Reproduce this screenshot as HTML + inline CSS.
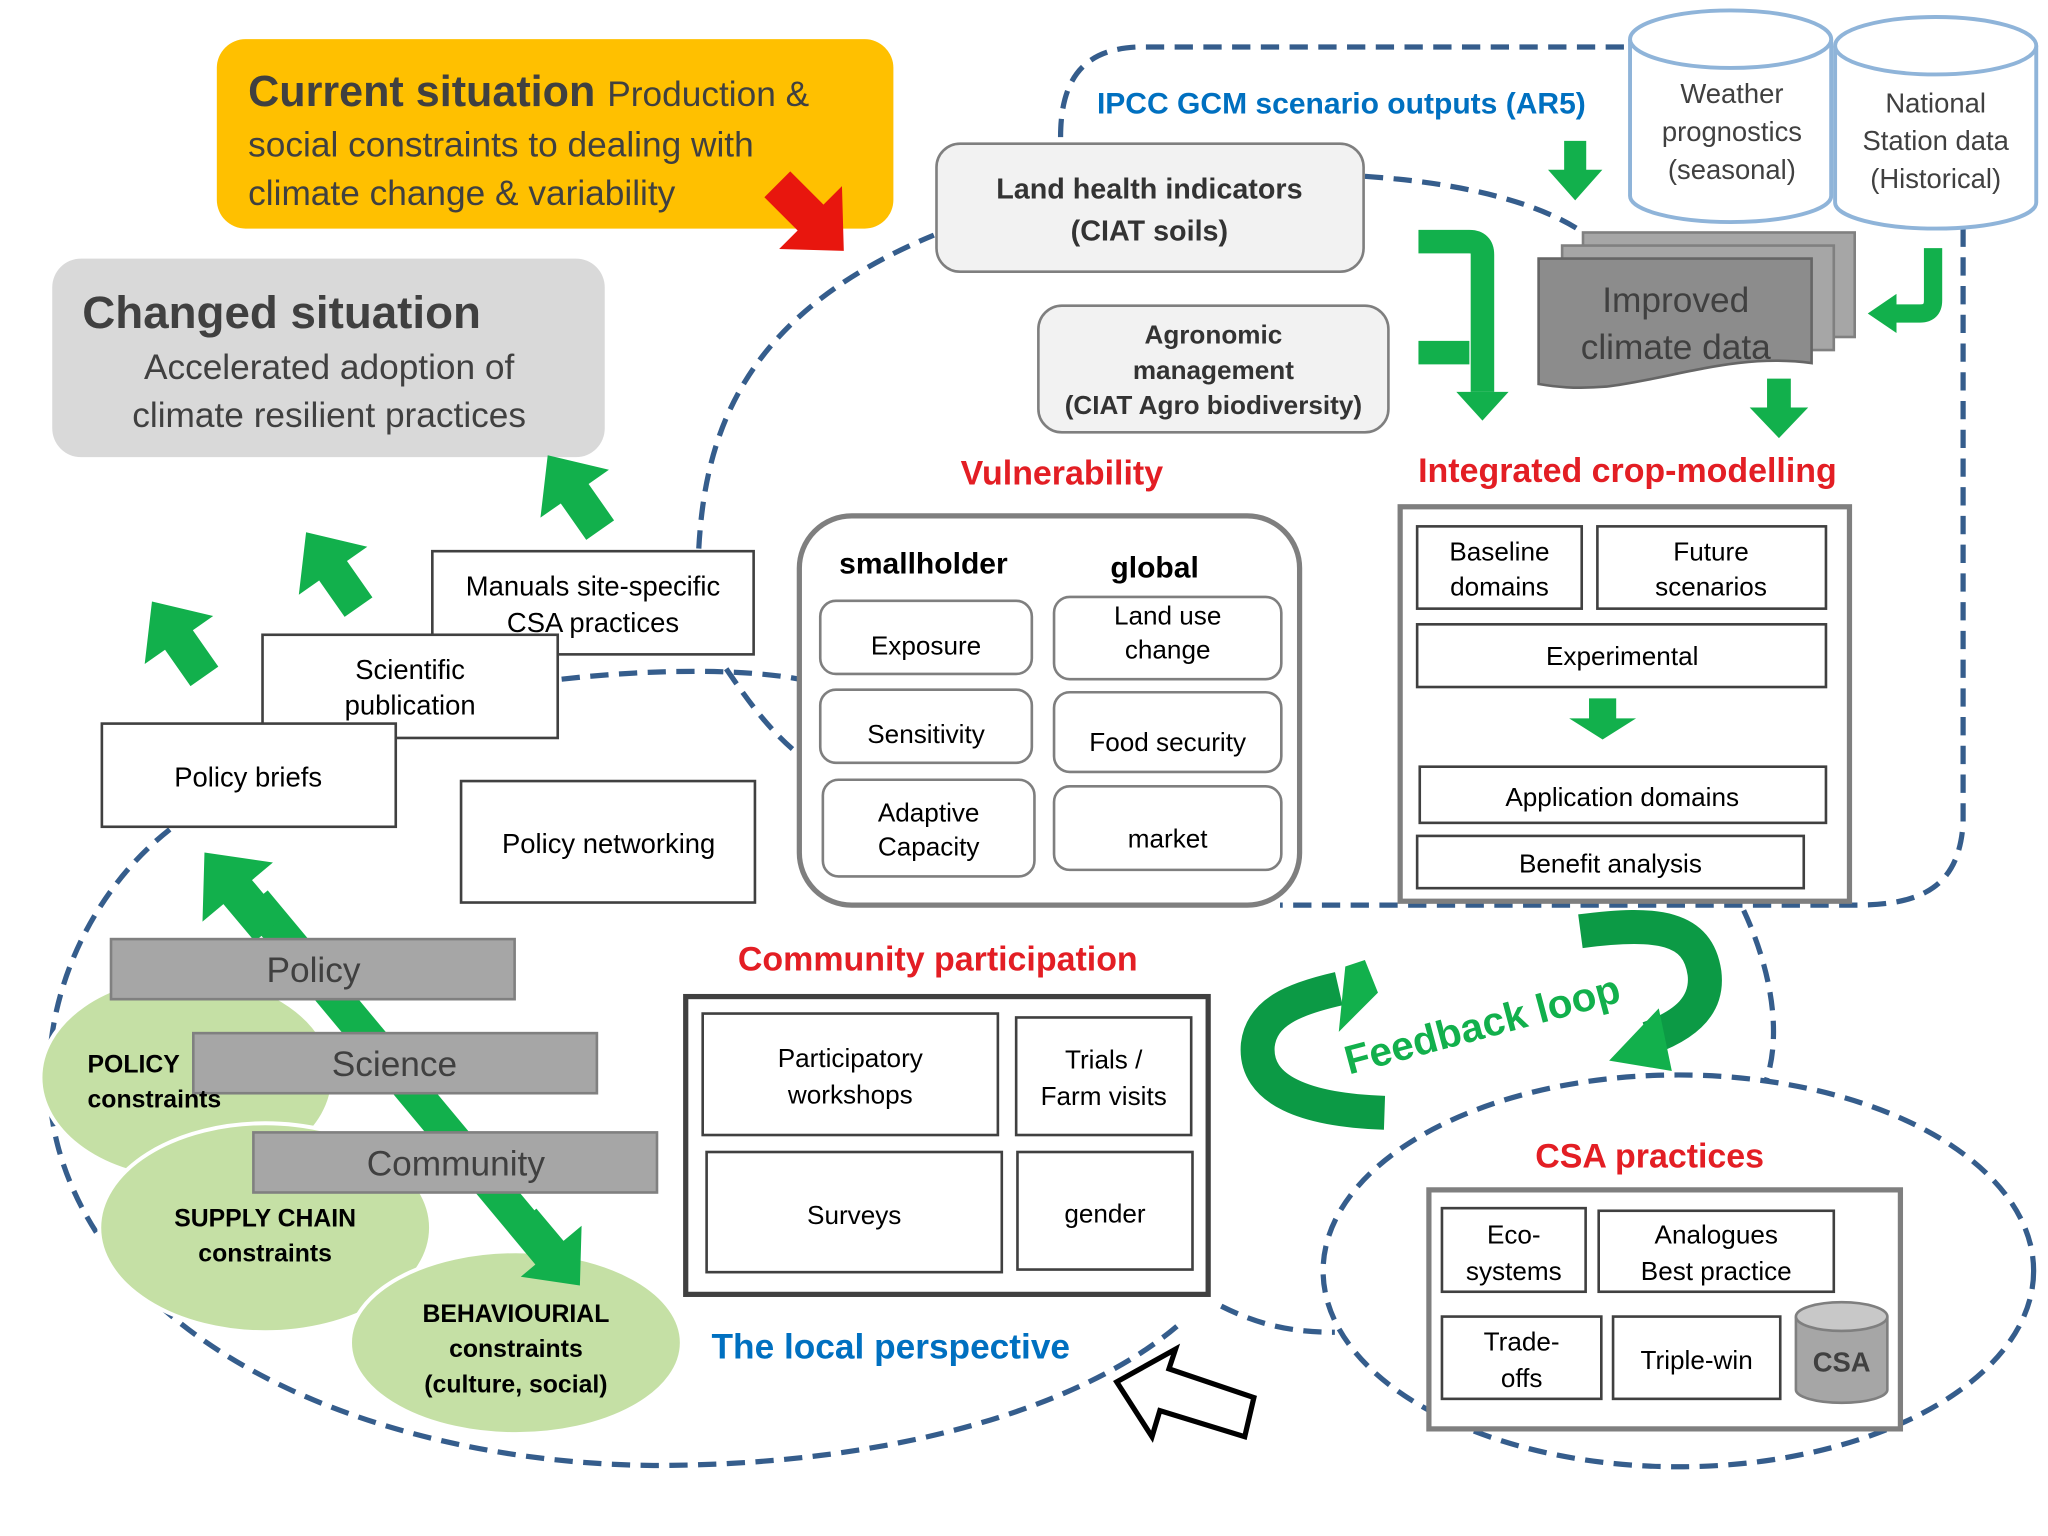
<!DOCTYPE html>
<html><head><meta charset="utf-8"><style>
html,body{margin:0;padding:0;background:#fff;}
svg{display:block;}
text{font-family:"Liberation Sans",sans-serif;}
</style></head><body>
<svg width="2048" height="1536" viewBox="0 0 1568 1176" xmlns="http://www.w3.org/2000/svg">
<defs>
<path id="ar" d="M0,-36 L32,0 L13,0 L13,34 L-13,34 L-13,0 L-32,0 Z" fill="#12b04c"/>
</defs>
<rect width="1568" height="1176" fill="#fff"/>

<g fill="none" stroke="#355d8c" stroke-width="4" stroke-dasharray="14,8">
<path d="M535,420 C540,330 570,240 715,180"/>
<path d="M812,105 C812,60 830,38 870,36 L1245,36"/>
<path d="M1045,135 C1120,140 1180,155 1215,180"/>
<path d="M1503,175 L1503,630 C1500,680 1470,693 1420,693 L980,693"/>
<path d="M430,520 C500,512 570,512 612,520"/>
<path d="M556,512 C575,540 590,560 612,578"/>
<path d="M130,635 C60,690 20,790 45,880 C90,1040 300,1120 500,1122 C700,1122 840,1070 905,1012"/>
<path d="M935,1000 C965,1015 990,1020 1022,1020"/>
<path d="M1335,697 C1355,740 1365,790 1352,828"/>
<ellipse cx="1285" cy="973" rx="272" ry="150"/>
</g>

<rect x="166" y="30" width="518" height="145" rx="22" fill="#ffc000"/>
<text x="190" y="81" font-size="33" font-weight="bold" fill="#404040">Current situation <tspan font-weight="normal" font-size="27">Production &amp;</tspan></text>
<text x="190" y="120" font-size="27" fill="#404040">social constraints to  dealing with</text>
<text x="190" y="157" font-size="27" fill="#404040">climate change &amp; variability</text>
<g transform="translate(622,168) rotate(135)"><path d="M0,-34 L34,2 L14,2 L14,38 L-14,38 L-14,2 L-34,2 Z" fill="#e8160e"/></g>

<rect x="40" y="198" width="423" height="152" rx="22" fill="#d9d9d9"/>
<text x="63" y="251" font-size="35" font-weight="bold" fill="#404040">Changed situation</text>
<text x="252" y="290" font-size="27" fill="#404040" text-anchor="middle">Accelerated adoption of</text>
<text x="252" y="327" font-size="27" fill="#404040" text-anchor="middle">climate resilient  practices</text>

<use href="#ar" transform="translate(440,378) rotate(-35)"/>
<use href="#ar" transform="translate(255,437) rotate(-35)"/>
<use href="#ar" transform="translate(137,490) rotate(-35)"/>

<g fill="#fff" stroke="#404040" stroke-width="2" font-size="21" text-anchor="middle">
<rect x="331" y="422" width="246" height="79"/>
<text x="454" y="456" stroke="none" fill="#000">Manuals site-specific</text>
<text x="454" y="484" stroke="none" fill="#000">CSA practices</text>
<rect x="201" y="486" width="226" height="79"/>
<text x="314" y="520" stroke="none" fill="#000">Scientific</text>
<text x="314" y="547" stroke="none" fill="#000">publication</text>
<rect x="78" y="554" width="225" height="79"/>
<text x="190" y="602" stroke="none" fill="#000">Policy briefs</text>
<rect x="353" y="598" width="225" height="93"/>
<text x="466" y="653" stroke="none" fill="#000">Policy networking</text>
</g>

<g fill="#c5e0a5" stroke="#fff" stroke-width="3">
<ellipse cx="143" cy="825" rx="112" ry="78"/>
<ellipse cx="203" cy="940" rx="127" ry="80"/>
<ellipse cx="395" cy="1028" rx="127" ry="70"/>
</g>
<line x1="195" y1="690" x2="420" y2="960" stroke="#12b04c" stroke-width="26"/>
<use href="#ar" transform="translate(182,683) rotate(-40) scale(1.1)"/>
<use href="#ar" transform="translate(422,958) rotate(140) scale(0.95)"/>
<g fill="#a6a6a6" stroke="#808080" stroke-width="2">
<rect x="85" y="719" width="309" height="46"/>
<rect x="148" y="791" width="309" height="46"/>
<rect x="194" y="867" width="309" height="46"/>
</g>
<g font-size="27" fill="#404040" text-anchor="middle">
<text x="240" y="752">Policy</text>
<text x="302" y="824">Science</text>
<text x="349" y="900">Community</text>
</g>
<g font-size="19" font-weight="bold" fill="#000">
<text x="67" y="821">POLICY</text>
<text x="67" y="848">constraints</text>
<text x="203" y="939" text-anchor="middle">SUPPLY CHAIN</text>
<text x="203" y="966" text-anchor="middle">constraints</text>
<text x="395" y="1012" text-anchor="middle">BEHAVIOURIAL</text>
<text x="395" y="1039" text-anchor="middle">constraints</text>
<text x="395" y="1066" text-anchor="middle">(culture, social)</text>
</g>

<rect x="717" y="110" width="327" height="98" rx="18" fill="#f2f2f2" stroke="#7f7f7f" stroke-width="2"/>
<text x="880" y="152" font-size="22" font-weight="bold" fill="#333" text-anchor="middle">Land health indicators</text>
<text x="880" y="184" font-size="22" font-weight="bold" fill="#333" text-anchor="middle">(CIAT soils)</text>
<rect x="795" y="234" width="268" height="97" rx="18" fill="#f2f2f2" stroke="#7f7f7f" stroke-width="2"/>
<g font-size="20" font-weight="bold" fill="#333" text-anchor="middle">
<text x="929" y="263">Agronomic</text>
<text x="929" y="290">management</text>
<text x="929" y="317">(CIAT Agro biodiversity)</text>
</g>
<text x="1027" y="87" font-size="23" font-weight="bold" fill="#0070c0" text-anchor="middle">IPCC GCM scenario outputs (AR5)</text>

<g fill="#fff" stroke="#8fb4d9" stroke-width="3">
<path d="M1248,30 L1248,150 A77,20 0 0,0 1402,150 L1402,30"/>
<ellipse cx="1325" cy="30" rx="77" ry="22"/>
<path d="M1405,35 L1405,155 A77,20 0 0,0 1559,155 L1559,35"/>
<ellipse cx="1482" cy="35" rx="77" ry="22"/>
</g>
<g font-size="21" fill="#404040" text-anchor="middle">
<text x="1326" y="79">Weather</text><text x="1326" y="108">prognostics</text><text x="1326" y="137">(seasonal)</text>
<text x="1482" y="86">National</text><text x="1482" y="115">Station data</text><text x="1482" y="144">(Historical)</text>
</g>

<use href="#ar" transform="translate(1206,130) rotate(180) scale(0.65)"/>
<path d="M1086,185 L1125,185 Q1135,185 1135,195 L1135,300" fill="none" stroke="#12b04c" stroke-width="18"/>
<path d="M1086,270 L1125,270" stroke="#12b04c" stroke-width="18"/>
<path d="M1115,300 L1155,300 L1135,322 Z" fill="#12b04c"/>
<path d="M1480,190 L1480,230 Q1480,240 1470,240 L1450,240" fill="none" stroke="#12b04c" stroke-width="14"/>
<path d="M1452,225 L1452,255 L1430,240 Z" fill="#12b04c"/>
<use href="#ar" transform="translate(1362,312) rotate(180) scale(0.7,0.65)"/>

<rect x="1212" y="178" width="208" height="80" fill="#a6a6a6" stroke="#808080" stroke-width="2"/>
<rect x="1196" y="188" width="208" height="80" fill="#a6a6a6" stroke="#808080" stroke-width="2"/>
<path d="M1178,198 L1387,198 L1387,278 C1330,270 1280,290 1230,296 C1205,298 1190,296 1178,294 Z" fill="#8c8c8c" stroke="#666" stroke-width="2"/>
<text x="1283" y="239" font-size="27" fill="#404040" text-anchor="middle">Improved</text>
<text x="1283" y="275" font-size="27" fill="#404040" text-anchor="middle">climate data</text>

<text x="813" y="371" font-size="26" font-weight="bold" fill="#e31e24" text-anchor="middle">Vulnerability</text>
<rect x="612" y="395" width="383" height="298" rx="40" fill="#fff" stroke="#7f7f7f" stroke-width="4"/>
<text x="707" y="439" font-size="23" font-weight="bold" fill="#000" text-anchor="middle">smallholder</text>
<text x="884" y="442" font-size="23" font-weight="bold" fill="#000" text-anchor="middle">global</text>
<g fill="#fff" stroke="#7f7f7f" stroke-width="2">
<rect x="628" y="460" width="162" height="56" rx="12"/>
<rect x="628" y="528" width="162" height="56" rx="12"/>
<rect x="630" y="597" width="162" height="74" rx="12"/>
<rect x="807" y="457" width="174" height="63" rx="12"/>
<rect x="807" y="530" width="174" height="61" rx="12"/>
<rect x="807" y="602" width="174" height="64" rx="12"/>
</g>
<g font-size="20" fill="#000" text-anchor="middle">
<text x="709" y="501">Exposure</text>
<text x="709" y="569">Sensitivity</text>
<text x="711" y="629">Adaptive</text><text x="711" y="655">Capacity</text>
<text x="894" y="478">Land use</text><text x="894" y="504">change</text>
<text x="894" y="575">Food security</text>
<text x="894" y="649">market</text>
</g>

<text x="1246" y="369" font-size="26" font-weight="bold" fill="#e31e24" text-anchor="middle">Integrated crop-modelling</text>
<rect x="1072" y="388" width="344" height="302" fill="#fff" stroke="#7f7f7f" stroke-width="4"/>
<g fill="#fff" stroke="#404040" stroke-width="2">
<rect x="1085" y="403" width="126" height="63"/>
<rect x="1223" y="403" width="175" height="63"/>
<rect x="1085" y="478" width="313" height="48"/>
<rect x="1087" y="587" width="311" height="43"/>
<rect x="1085" y="640" width="296" height="40"/>
</g>
<use href="#ar" transform="translate(1227,550) rotate(180) scale(0.8,0.45)"/>
<g font-size="20" fill="#000" text-anchor="middle">
<text x="1148" y="429">Baseline</text><text x="1148" y="456">domains</text>
<text x="1310" y="429">Future</text><text x="1310" y="456">scenarios</text>
<text x="1242" y="509">Experimental</text>
<text x="1242" y="617">Application domains</text>
<text x="1233" y="668">Benefit analysis</text>
</g>

<text x="718" y="743" font-size="26" font-weight="bold" fill="#e31e24" text-anchor="middle">Community participation</text>
<rect x="525" y="763" width="400" height="228" fill="#fff" stroke="#404040" stroke-width="4"/>
<g fill="#fff" stroke="#404040" stroke-width="2">
<rect x="538" y="776" width="226" height="93"/>
<rect x="778" y="779" width="134" height="90"/>
<rect x="541" y="882" width="226" height="92"/>
<rect x="779" y="882" width="134" height="90"/>
</g>
<g font-size="20" fill="#000" text-anchor="middle">
<text x="651" y="817">Participatory</text><text x="651" y="845">workshops</text>
<text x="845" y="818">Trials /</text><text x="845" y="846">Farm visits</text>
<text x="654" y="937">Surveys</text>
<text x="846" y="936">gender</text>
</g>
<text x="682" y="1040" font-size="27" font-weight="bold" fill="#0070c0" text-anchor="middle">The local perspective</text>
<path d="M855,1058 L900,1033 L895,1048 L960,1070 L953,1100 L888,1080 L882,1100 Z" fill="#fff" stroke="#000" stroke-width="4"/>

<path d="M1060,852 C1000,850 960,835 963,800 C966,775 990,765 1025,757" fill="none" stroke="#0c9a45" stroke-width="26"/>
<path d="M1030,740 L1045,735 L1055,760 L1025,790 Z" fill="#12b04c"/>
<path d="M1210,713 C1270,705 1300,710 1305,745 C1308,770 1290,785 1262,795" fill="none" stroke="#0c9a45" stroke-width="26"/>
<path d="M1232,812 L1270,772 L1280,820 Z" fill="#12b04c"/>
<text x="1135" y="795" font-size="31" font-weight="bold" fill="#12b04c" text-anchor="middle" transform="rotate(-15 1135 785)">Feedback loop</text>

<text x="1263" y="894" font-size="26" font-weight="bold" fill="#e31e24" text-anchor="middle">CSA practices</text>
<rect x="1094" y="911" width="361" height="183" fill="#fff" stroke="#7f7f7f" stroke-width="4"/>
<g fill="#fff" stroke="#404040" stroke-width="2">
<rect x="1104" y="925" width="110" height="64"/>
<rect x="1224" y="927" width="180" height="62"/>
<rect x="1104" y="1008" width="122" height="63"/>
<rect x="1235" y="1008" width="128" height="63"/>
</g>
<g font-size="20" fill="#000" text-anchor="middle">
<text x="1159" y="952">Eco-</text><text x="1159" y="980">systems</text>
<text x="1314" y="952">Analogues</text><text x="1314" y="980">Best practice</text>
<text x="1165" y="1034">Trade-</text><text x="1165" y="1062">offs</text>
<text x="1299" y="1048">Triple-win</text>
</g>
<path d="M1375,1008 L1375,1064 A35,10 0 0,0 1445,1064 L1445,1008" fill="#a6a6a6" stroke="#7f7f7f" stroke-width="2"/>
<ellipse cx="1410" cy="1008" rx="35" ry="11" fill="#c8c8c8" stroke="#7f7f7f" stroke-width="2"/>
<text x="1410" y="1050" font-size="21" font-weight="bold" fill="#404040" text-anchor="middle">CSA</text>
</svg>
</body></html>
